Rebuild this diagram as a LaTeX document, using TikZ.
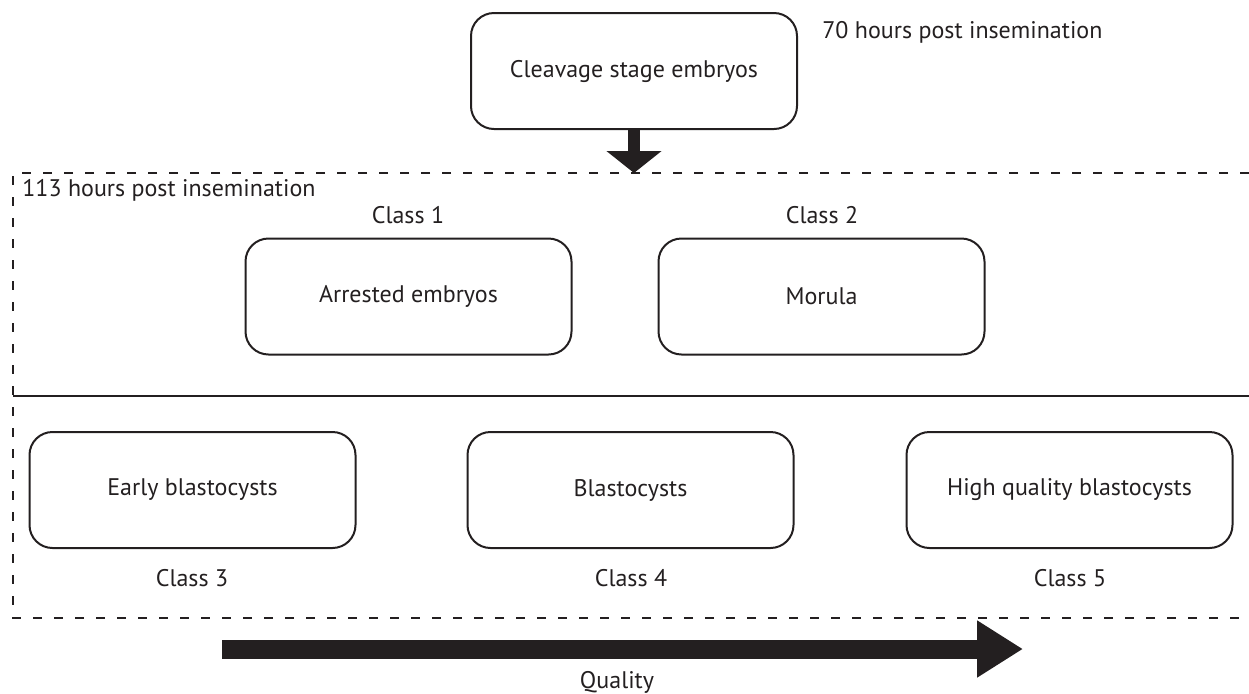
\documentclass[tikz,border=0pt]{standalone}
\usepackage{fontspec}
\setmainfont{PT Sans}
\usetikzlibrary{arrows.meta,positioning}
\definecolor{ink}{HTML}{231F20}

\begin{document}
\begin{tikzpicture}[x=0.5pt, y=-0.5pt, ink, font=\fontsize{12}{14}\selectfont,
    stage/.style={rectangle, rounded corners=11.5pt, draw=ink, line width=1pt,
                  minimum width=163pt, minimum height=58pt},
    lbl/.style={inner sep=0pt, text=ink}]
   \useasboundingbox (0,0) rectangle (1249,693);
   \node[stage] (cleave) at (634,71) {Cleavage stage embryos};
   \node[lbl, anchor=west] (h70) at (822,32) {70 hours post insemination};

   % 113 hours frame
   \draw[dashed, dash pattern=on 4.5pt off 6pt, line width=0.8pt] (1249,173) -| (13,618) -- (1249,618);
   \draw[line width=0.8pt] (13,396) -- (1249,396);
   \node[lbl, anchor=west] (h113) at (22,190) {113 hours post insemination};

   \node[stage] (arrested) at (408.5,296.5) {Arrested embryos};
   \node[stage] (morula) at (821.5,296.5) {Morula};
   \node[lbl] (c1) at (408,215) {Class 1};
   \node[lbl] (c2) at (822,215) {Class 2};

   \node[stage] (early) at (192.5,490) {Early blastocysts};
   \node[stage] (blasto) at (630.5,490) {Blastocysts};
   \node[stage] (hq) at (1069.5,490) {High quality blastocysts};
   \node[lbl] (c3) at (192,578) {Class 3};
   \node[lbl] (c4) at (631,578) {Class 4};
   \node[lbl] (c5) at (1070,578) {Class 5};

   \coordinate (dn) at (634,173);
   \coordinate (qs) at (222,649);
   \coordinate (qe) at (1023,649);
   \node[lbl] (quality) at (617,682) {Quality};

  \draw[line width=6pt, -{Triangle[width=27pt, length=11pt]}] (cleave.south) -- (dn);
  \draw[line width=9.5pt, -{Triangle[width=27pt, length=23pt]}] (qs) -- (qe);
\end{tikzpicture}
\end{document}
